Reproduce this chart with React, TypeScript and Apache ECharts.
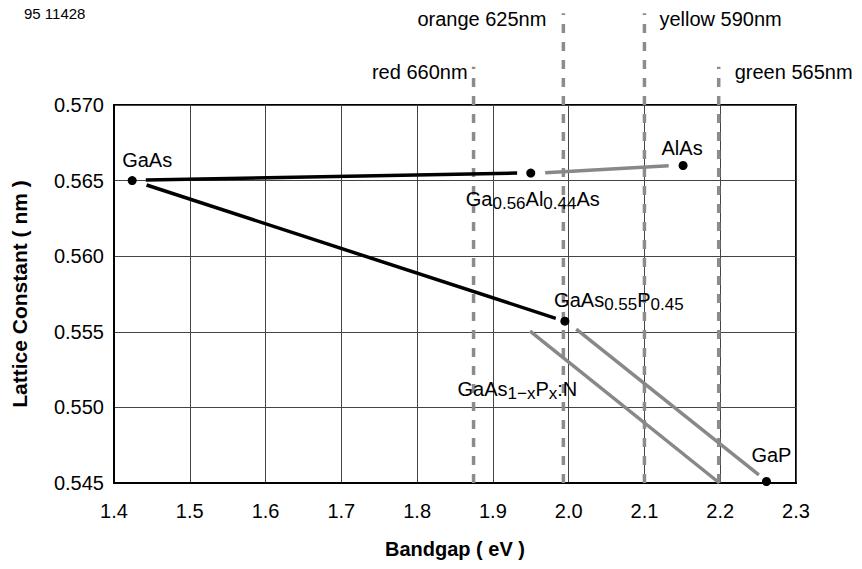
import React, { useEffect, useRef } from "react";
import * as echarts from "echarts";

const FONT = "'Liberation Sans', Arial, Helvetica, sans-serif";

// Axis ranges: bandgap (eV) and lattice constant (nm)
const bandgapRange = [1.4, 2.3];
const bandgapStep = 0.1;
const latticeRange = [0.545, 0.57];
const latticeStep = 0.005;

// Compound semiconductors (marked by dots)
const compoundNames = ["GaAs", "Ga0.56Al0.44As", "AlAs", "GaAs0.55P0.45", "GaP"];
const compoundBandgap = [1.424, 1.95, 2.151, 1.995, 2.261];
const compoundLattice = [0.565, 0.5655, 0.566, 0.5557, 0.5451];
const compoundLabels = [
  "GaAs",
  "{m|Ga}{s|0.56}{m|Al}{s|0.44}{m|As}",
  "AlAs",
  "{m|GaAs}{s|0.55}{m|P}{s|0.45}",
  "GaP",
];

// Alloy tie lines
const gaAsToGaAlAs = [[1.442, 0.56504], [1.932, 0.5655]];
const gaAlAsToAlAs = [[1.969, 0.56552], [2.132, 0.56599]];
const gaAsToGaAsP = [[1.443, 0.56471], [1.983, 0.55589]];
const gaAsPNLow = [[1.949, 0.55505], [2.199, 0.545]];
const gaAsPNHigh = [[2.01, 0.55517], [2.251, 0.54553]];
const gaAsPNLabel = "{m|GaAs}{s|1−x}{m|P}{s|x}{m|:N}";

// Emission wavelengths as bandgap markers
const emissionNames = ["red 660nm", "orange 625nm", "yellow 590nm", "green 565nm"];
const emissionBandgap = [1.8745, 1.993, 2.1, 2.198];
const emissionTop = [0.57253, 0.57606, 0.57606, 0.57253];

// Label placement (pixel offsets from their anchor points)
const compoundLabelOffsets = [[15, -21], [2, 26], [-1, -17], [54, -21], [5, -26.5]];
const gaAsPNLabelOffset = [-12.6, 57.5];
const emissionAlign = ["right", "right", "left", "left"];
const emissionOffsets = [[-6, 5], [-17, 6], [15, 6], [16, 5]];

const rich = {
  m: { fontSize: 20, lineHeight: 20, verticalAlign: "top", fontFamily: FONT, color: "#000" },
  s: { fontSize: 17, lineHeight: 17, padding: [6, 0, 0, 0], verticalAlign: "top", fontFamily: FONT, color: "#000" },
};

const baseLabel = {
  show: true,
  position: "inside",
  fontSize: 20,
  fontFamily: FONT,
  color: "#000",
  opacity: 1,
  textBorderWidth: 0,
  textShadowBlur: 0,
};

export default function App() {
  const ref = useRef<HTMLDivElement>(null);

  useEffect(() => {
    if (!ref.current) return;
    const chart = echarts.init(ref.current, undefined, { renderer: "svg" });

    const emissionSeries = emissionBandgap.map((x, i) => ({
      name: emissionNames[i],
      type: "line",
      clip: false,
      silent: true,
      showSymbol: false,
      symbol: "none",
      z: 1,
      data: [[x, latticeRange[0]], [x, emissionTop[i]]],
      lineStyle: { color: "#8c8c8c", width: 3.5, type: [9, 9] },
    }));

    const tieLine = (data: number[][], color: string) => ({
      type: "line",
      clip: false,
      silent: true,
      symbol: "none",
      z: 3,
      data,
      lineStyle: { color, width: 3.5, cap: "butt", opacity: 1 },
    });

    chart.setOption({
      animation: false,
      backgroundColor: "#fff",
      textStyle: { fontFamily: FONT },
      grid: {
        left: 114,
        right: 66,
        top: 105,
        bottom: 86,
        show: true,
        borderColor: "#000",
        borderWidth: 2,
      },
      xAxis: {
        type: "value",
        min: bandgapRange[0],
        max: bandgapRange[1],
        interval: bandgapStep,
        name: "Bandgap ( eV )",
        nameLocation: "middle",
        nameGap: 56,
        nameTextStyle: { fontSize: 20, fontWeight: "bold", color: "#000", fontFamily: FONT },
        axisLine: { show: true, lineStyle: { color: "#000", width: 2 } },
        axisTick: { show: false },
        axisLabel: {
          fontSize: 20,
          color: "#000",
          margin: 18,
          fontFamily: FONT,
          formatter: (v: number) => v.toFixed(1),
        },
        splitLine: { show: true, lineStyle: { color: "#444", width: 1 } },
      },
      yAxis: {
        type: "value",
        min: latticeRange[0],
        max: latticeRange[1],
        interval: latticeStep,
        name: "Lattice Constant ( nm )",
        nameLocation: "middle",
        nameGap: 84,
        nameTextStyle: { fontSize: 21, fontWeight: "bold", color: "#000", fontFamily: FONT },
        axisLine: { show: true, lineStyle: { color: "#000", width: 2 } },
        axisTick: { show: false },
        axisLabel: {
          fontSize: 20,
          color: "#000",
          margin: 10,
          fontFamily: FONT,
          formatter: (v: number) => v.toFixed(3),
        },
        splitLine: { show: true, lineStyle: { color: "#444", width: 1 } },
      },
      graphic: [
        {
          type: "text",
          left: 24,
          top: 6,
          style: { text: "95 11428", font: `15px ${FONT}`, fill: "#000" },
        },
      ],
      series: [
        ...emissionSeries,
        tieLine(gaAsToGaAlAs, "#000"),
        tieLine(gaAlAsToAlAs, "#888"),
        tieLine(gaAsToGaAsP, "#000"),
        tieLine(gaAsPNLow, "#888"),
        tieLine(gaAsPNHigh, "#888"),
        {
          name: "compounds",
          type: "scatter",
          clip: false,
          silent: true,
          z: 4,
          symbol: "circle",
          symbolSize: 9,
          itemStyle: { color: "#000", opacity: 1 },
          data: compoundNames.map((n, i) => ({
            name: n,
            value: [compoundBandgap[i], compoundLattice[i]],
            label: {
              ...baseLabel,
              offset: compoundLabelOffsets[i],
              formatter: compoundLabels[i],
              rich,
            },
          })),
        },
        {
          name: "annotations",
          type: "scatter",
          clip: false,
          silent: true,
          z: 4,
          symbolSize: 0,
          itemStyle: { color: "transparent", opacity: 1 },
          data: [
            {
              value: gaAsPNLow[0],
              label: {
                ...baseLabel,
                offset: gaAsPNLabelOffset,
                formatter: gaAsPNLabel,
                rich,
              },
            },
            ...emissionNames.map((n, i) => ({
              value: [emissionBandgap[i], emissionTop[i]],
              label: {
                ...baseLabel,
                align: emissionAlign[i],
                verticalAlign: "middle",
                offset: emissionOffsets[i],
                formatter: n,
              },
            })),
          ],
        },
      ],
    });

    return () => chart.dispose();
  }, []);

  return (
    <div
      ref={ref}
      style={{ position: "fixed", left: 0, top: 0, width: 862, height: 569 }}
    />
  );
}
